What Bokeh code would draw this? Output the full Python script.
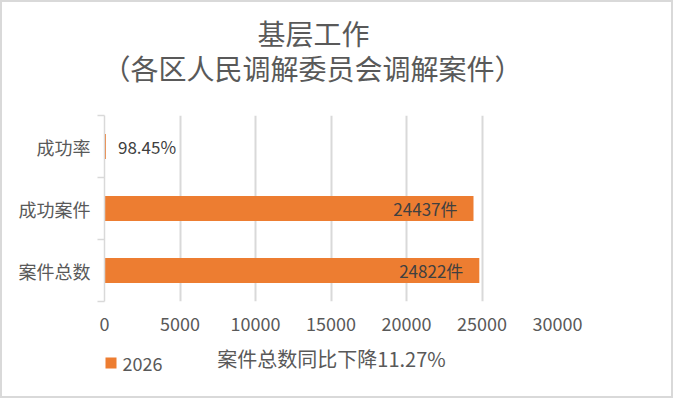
from bokeh.plotting import figure
from bokeh.layouts import column
from bokeh.models import (ColumnDataSource, Range1d, LinearAxis, FixedTicker, Label, BoxAnnotation)
from bokeh.core.properties import value
from bokeh.embed import file_html
from bokeh.resources import INLINE

# ---- data ----
title_line1 = "基层工作"
title_line2 = "（各区人民调解委员会调解案件）"
categories = ["案件总数", "成功案件", "成功率"]
values = [24822, 24437, 98.45]
value_labels = ["24822件", "24437件", "98.45%"]
series_name = "2026"
note = "案件总数同比下降11.27%"
x_ticks = [0, 5000, 10000, 15000, 20000, 25000, 30000]

FONT = "Noto Sans CJK SC"
GRID = "#d9d9d9"
TXT = "#595959"
ORANGE = "#ED7D31"
B = 2                      # css border width
W = 673 - 2 * B            # inner width
H_TOP, H_MAIN = 98, 243
H_BOT = 398 - 2 * B - H_TOP - H_MAIN
Y_BOT = B + H_TOP + H_MAIN  # image y of the bottom strip

n = len(categories)
pos = [i + 0.5 for i in range(n)]
FL, FR, FT, FB = 104 - B, 557 - B, 115 - H_TOP - B, 301 - H_TOP - B


def blank(h):
    # frames of plots in a column are aligned with the main chart's frame,
    # so the x range is expressed in the same pixel span (FL..FR)
    f = figure(width=W, height=h, output_backend="svg", toolbar_location=None, title=None,
               x_range=Range1d(FL, FR), y_range=Range1d(h, 0),
               x_axis_location=None, y_axis_location=None,
               min_border_left=FL, min_border_right=W - FR, min_border_top=0, min_border_bottom=0)
    f.outline_line_color = None
    f.xgrid.visible = False
    f.ygrid.visible = False
    return f


# ---- title block ----
top = blank(H_TOP)
for txt, cx, cy, fs in [(title_line1, 313, 32, "28px"), (title_line2, 312, 67, "28px")]:
    top.add_layout(Label(x=cx - B, y=cy - B, text=txt, text_align="center", text_baseline="middle",
                         text_font=FONT, text_font_size=fs, text_color=TXT))

# ---- main chart ----
p = figure(width=W, height=H_MAIN, output_backend="svg", toolbar_location=None, title=None,
           y_range=Range1d(0, n), x_range=Range1d(0, 30000), y_axis_location=None,
           min_border_left=FL, min_border_right=W - FR, min_border_top=FT,
           min_border_bottom=H_MAIN - FB)
p.outline_line_color = None

tick_axis = LinearAxis(ticker=FixedTicker(ticks=list(range(n + 1))),
                       major_label_overrides={i: "" for i in range(n + 1)},
                       major_tick_out=7, major_tick_in=0, minor_tick_line_color=None,
                       major_label_standoff=0,
                       axis_line_color=GRID, major_tick_line_color=GRID,
                       axis_line_width=1.5, major_tick_line_width=1.5)
p.add_layout(tick_axis, "left")
cat_axis = LinearAxis(ticker=FixedTicker(ticks=pos),
                      major_label_overrides={pv: c for pv, c in zip(pos, categories)},
                      axis_line_color=None, major_tick_line_color=None, minor_tick_line_color=None,
                      major_label_standoff=1, major_label_text_font=FONT,
                      major_label_text_font_size="18px", major_label_text_color=TXT)
p.add_layout(cat_axis, "left")

xa = p.xaxis[0]
xa.ticker = FixedTicker(ticks=x_ticks)
xa.axis_line_color = None
xa.major_tick_line_color = None
xa.minor_tick_line_color = None
xa.major_label_standoff = 9
xa.major_label_text_font = FONT
xa.major_label_text_font_size = "18px"
xa.major_label_text_color = TXT

p.xgrid.ticker = FixedTicker(ticks=x_ticks)
p.xgrid.grid_line_color = GRID
p.xgrid.grid_line_width = 2
p.ygrid.grid_line_color = None

src = ColumnDataSource(dict(
    y=pos, val=values, lbl=value_labels,
    align=["right" if v > 1000 else "left" for v in values],
    xoff=[-16 if v > 1000 else 12 for v in values],
))
p.hbar(y="y", right="val", left=0, height=0.4, source=src, fill_color=ORANGE, line_color=None)
p.text(x="val", y="y", text="lbl", text_align="align", x_offset="xoff",
       text_baseline="middle", text_font=value(FONT), text_font_size="17px",
       text_color="#404040", source=src)

# ---- legend + note row ----
bot = blank(H_BOT)
bot.add_layout(Label(x=331 - B, y=358 - Y_BOT, text=note, text_align="center",
                     text_baseline="middle", text_font=FONT, text_font_size="20px", text_color=TXT))
# legend swatch and label for the series
bot.add_layout(BoxAnnotation(left=105 - B, right=116 - B, top=357 - Y_BOT, bottom=368 - Y_BOT,
                             fill_color=ORANGE, fill_alpha=1, line_color=None))
bot.add_layout(Label(x=122 - B, y=363 - Y_BOT, text=series_name, text_align="left",
                     text_baseline="middle", text_font=FONT, text_font_size="18px", text_color=TXT))

layout = column(top, p, bot, spacing=0, styles={"border": f"{B}px solid {GRID}"})

open("out.html", "w").write(file_html(layout, INLINE))
